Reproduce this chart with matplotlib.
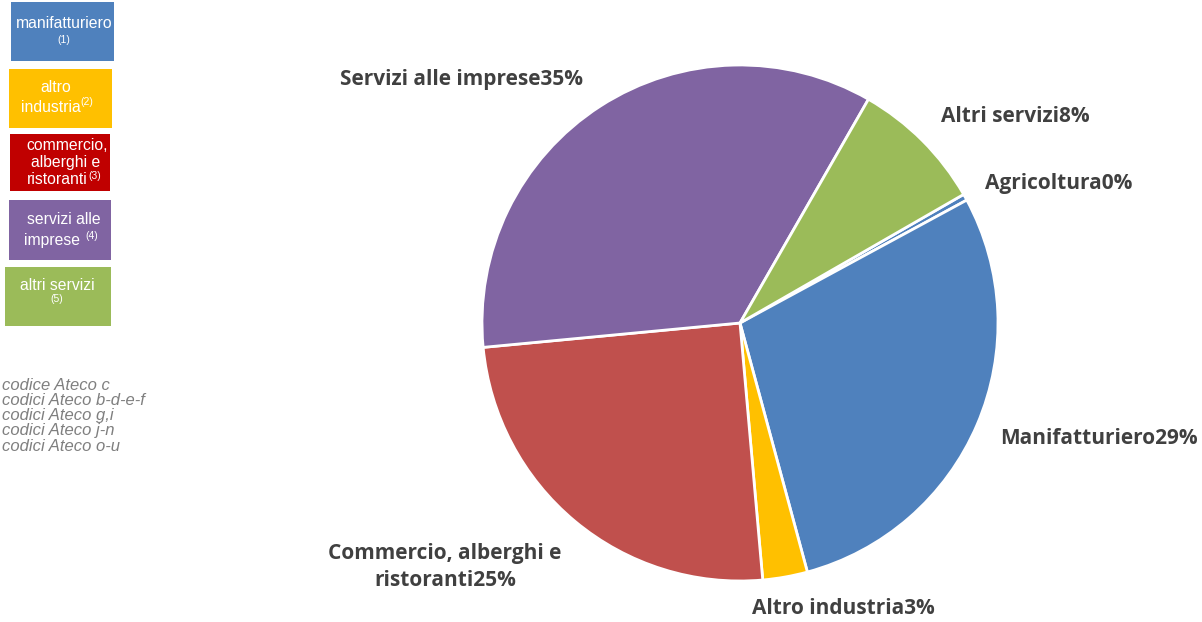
import matplotlib
matplotlib.use("Agg")
import matplotlib.pyplot as plt
from matplotlib.patches import Rectangle

# ---- data ----
categories = ["Agricoltura", "Manifatturiero", "Altro industria",
              "Commercio, alberghi e\nristoranti", "Servizi alle imprese", "Altri servizi"]
values = [0.4, 28.7, 2.8, 24.9, 34.8, 8.4]
colors = ["#4F81BD", "#4F81BD", "#FFC000", "#C0504D", "#8064A2", "#9BBB59"]

legend_labels = ["manifatturiero", "altro\nindustria", "commercio,\nalberghi e\nristoranti",
                 "servizi alle\nimprese", "altri servizi"]
legend_notes = ["(1)", "(2)", "(3)", "(4)", "(5)"]
legend_colors = ["#4F81BD", "#FFC000", "#C00000", "#8064A2", "#9BBB59"]
ateco_notes = ["codice Ateco c", "codici Ateco b-d-e-f", "codici Ateco g,i",
               "codici Ateco j-n", "codici Ateco o-u"]

W, H = 1202, 622
fig = plt.figure(figsize=(W / 100, H / 100), dpi=100)
ax = fig.add_axes([0, 0, 1, 1])

def Y(y):
    return H - y

total = sum(values)
ax.pie(values, colors=colors, startangle=29.9, counterclock=False,
       center=(740, Y(323)), radius=258,
       wedgeprops=dict(edgecolor="white", linewidth=2))
ax.set_xlim(0, W)
ax.set_ylim(0, H)
ax.set_aspect("equal")
ax.set_axis_off()

# ---- pie labels ----
lab_pos = [(985, 183, "left"), (1000, 438, "left"), (752, 608, "left"),
           (445, 567, "center"), (340, 80, "left"), (941, 117, "left")]
for cat, v, (x, y, ha) in zip(categories, values, lab_pos):
    pct = f"{round(v / total * 100):d}%"
    ax.text(x, Y(y), cat + pct, ha=ha, va="center", fontsize=15, fontweight="bold",
            color="#404040", family="Open Sans", linespacing=1.32,
            multialignment="center")

# ---- left legend boxes ----
boxes = [(11, 2, 103, 59), (9, 69, 103, 59), (10, 134, 100, 57),
         (9, 200, 102, 60), (5, 267, 106, 59)]
for (x, y, w, h), lab, note, c in zip(boxes, legend_labels, legend_notes, legend_colors):
    ax.add_patch(Rectangle((x, Y(y + h)), w, h, facecolor=c, edgecolor="none"))
fs = 11.3
tf = dict(color="white", family="Liberation Sans", fontsize=fs)
sf = dict(color="white", family="Liberation Sans", fontsize=7.5)
# 1
ax.text(64, Y(23), "manifatturiero", ha="center", va="center", **tf)
ax.text(64, Y(40), legend_notes[0], ha="center", va="center", **sf)
# 2
ax.text(56, Y(88), "altro", ha="center", va="center", **tf)
ax.text(51, Y(107), "industria", ha="center", va="center", **tf)
ax.text(80, Y(102), legend_notes[1], ha="left", va="center", **sf)
# 3
ax.text(67, Y(145), "commercio,", ha="center", va="center", **tf)
ax.text(66, Y(163), "alberghi e", ha="center", va="center", **tf)
ax.text(57, Y(180), "ristoranti", ha="center", va="center", **tf)
ax.text(88, Y(176), legend_notes[2], ha="left", va="center", **sf)
# 4
ax.text(64, Y(220), "servizi alle", ha="center", va="center", **tf)
ax.text(52, Y(240), "imprese", ha="center", va="center", **tf)
ax.text(85, Y(236), legend_notes[3], ha="left", va="center", **sf)
# 5
ax.text(57, Y(285), "altri servizi", ha="center", va="center", **tf)
ax.text(57, Y(299), legend_notes[4], ha="center", va="center", **sf)

# ---- Ateco notes ----
for i, t in enumerate(ateco_notes):
    ax.text(2, Y(385 + i * 15.3), t, ha="left", va="center", fontsize=12,
            style="italic", color="#7F7F7F", family="Liberation Sans")

fig.savefig("out.png", dpi=100)
